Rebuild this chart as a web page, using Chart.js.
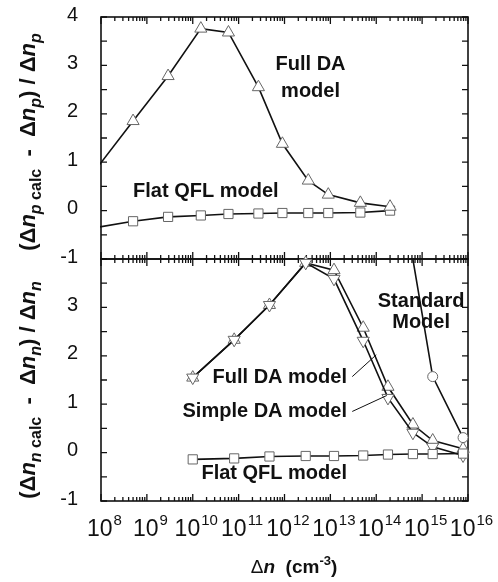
<!DOCTYPE html>
<html>
<head>
<meta charset="utf-8">
<script src="https://cdn.jsdelivr.net/npm/chart.js@4.4.0/dist/chart.umd.min.js"></script>
<style>
  html, body { margin: 0; padding: 0; background: #fff; }
</style>
</head>
<body>
<canvas id="myChart" width="498" height="582"></canvas>
<script>
/*---------------------------- data ------------------------------------*/
// upper panel: (dn_p calc - dn_p) / dn_p   (first point lies left of the axis, only the line shows)
var topX    = [5e7, 5e8, 2.9e9, 1.5e10, 6e10, 2.7e11, 9e11, 3.3e12, 9e12, 4.5e13, 2e14];
var topDaY  = [0.62, 1.85, 2.78, 3.76, 3.68, 2.55, 1.38, 0.62, 0.33, 0.16, 0.08];
var topQflY = [-0.38, -0.22, -0.13, -0.10, -0.07, -0.06, -0.05, -0.05, -0.05, -0.04, 0.0];

// lower panel: (dn_n calc - dn_n) / dn_n
var botX       = [1e10, 8e10, 4.7e11, 2.9e12, 1.2e13, 5.2e13, 1.8e14, 6.3e14, 1.7e15, 7.8e15];
var botFullY   = [1.55, 2.33, 3.05, 3.92, 3.77, 2.58, 1.36, 0.58, 0.25, 0.08];
var botSimpleY = [1.55, 2.33, 3.05, 3.92, 3.59, 2.31, 1.13, 0.41, 0.12, -0.06];
var botQflY    = [-0.14, -0.12, -0.08, -0.07, -0.07, -0.06, -0.04, -0.03, -0.03, -0.02];
var stdX       = [4e14, 1.7e15, 7.8e15];
var stdY       = [5.1, 1.57, 0.31];

var xExponents = [8, 9, 10, 11, 12, 13, 14, 15, 16];

function pts(xs, ys) {
  return xs.map(function (x, i) { return {x: x, y: ys[i]}; });
}
function radii(n, r, hideFirst) {
  var a = [];
  for (var i = 0; i < n; i++) a.push(hideFirst && i == 0 ? 0 : r);
  return a;
}

var FONT = "'Liberation Sans', Arial, sans-serif";

function series(data, axis, style, r, rot, hideFirst, clip) {
  return {
    data: data,
    yAxisID: axis,
    borderColor: '#111',
    borderWidth: 1.6,
    pointStyle: style,
    rotation: rot || 0,
    pointRadius: radii(data.length, r, hideFirst),
    pointBackgroundColor: '#fff',
    pointBorderColor: '#666',
    pointBorderWidth: 1,
    tension: 0,
    clip: clip
  };
}

// fixed axis sizes, no extra label overhang so the plot sits where the original does
function fixY(s) { s.width = 101; s.paddingTop = 0; s.paddingBottom = 0; }
function fixX(s) { s.height = 81; s.paddingLeft = 0; s.paddingRight = 0; }

/*---------------------------- extras drawn on top ----------------------*/
function rotatedTitle(ctx, cx, cy, parts) {
  var total = 0;
  parts.forEach(function (p) { ctx.font = p.f; total += ctx.measureText(p.t).width; });
  ctx.save();
  ctx.translate(cx, cy);
  ctx.rotate(-Math.PI / 2);
  var x = -total / 2;
  parts.forEach(function (p) {
    ctx.font = p.f;
    ctx.fillText(p.t, x, p.dy || 0);
    x += ctx.measureText(p.t).width;
  });
  ctx.restore();
}

var framePlugin = {
  id: 'frame',
  beforeDatasetsDraw: function (chart) {
    var ctx = chart.ctx, xs = chart.scales.x;
    ctx.save();
    ctx.strokeStyle = '#111';
    ['yTop', 'yBot'].forEach(function (id) {
      var ys = chart.scales[id];
      var t = ys.getPixelForValue(4), b = ys.getPixelForValue(-1);
      ctx.lineWidth = 1.6;
      ctx.strokeRect(xs.left, t, xs.right - xs.left, b - t);
      ctx.lineWidth = 1.3;
      ctx.beginPath();
      for (var v = -1; v <= 4; v += 0.5) {
        var py = ys.getPixelForValue(v);
        ctx.moveTo(xs.left, py); ctx.lineTo(xs.left + 6, py);
        ctx.moveTo(xs.right, py); ctx.lineTo(xs.right - 6, py);
      }
      for (var e = 8; e <= 16; e++) {
        for (var m = 1; m <= 9; m++) {
          if (e == 16 && m > 1) break;
          var px = xs.getPixelForValue(m * Math.pow(10, e));
          var len = m == 1 ? 7 : 4;
          ctx.moveTo(px, t); ctx.lineTo(px, t + len);
          ctx.moveTo(px, b); ctx.lineTo(px, b - len);
        }
      }
      ctx.stroke();
    });
    ctx.restore();
  },
  afterDraw: function (chart) {
    var ctx = chart.ctx, xs = chart.scales.x, yt = chart.scales.yTop, yb = chart.scales.yBot;
    ctx.save();
    ctx.fillStyle = '#111';
    ctx.textBaseline = 'alphabetic';

    // x tick labels 10^n
    xExponents.forEach(function (e) {
      var px = xs.getPixelForValue(Math.pow(10, e));
      ctx.font = '23px ' + FONT;
      var w1 = ctx.measureText('10').width;
      ctx.font = '15px ' + FONT;
      var w2 = ctx.measureText(String(e)).width;
      var x0 = px - (w1 + w2) / 2 + 3;
      ctx.font = '23px ' + FONT;
      ctx.fillText('10', x0, 536);
      ctx.font = '15px ' + FONT;
      ctx.fillText(String(e), x0 + w1 + 1, 525);
    });

    // x axis title
    var parts = [
      {t: '\u0394', f: '19px ' + FONT},
      {t: 'n', f: 'italic bold 19px ' + FONT},
      {t: '  (cm', f: 'bold 19px ' + FONT},
      {t: '-3', f: 'bold 13px ' + FONT, dy: -8},
      {t: ')', f: 'bold 19px ' + FONT}
    ];
    var tw = 0;
    parts.forEach(function (p) { ctx.font = p.f; tw += ctx.measureText(p.t).width; });
    var cx = 294 - tw / 2;
    parts.forEach(function (p) {
      ctx.font = p.f;
      ctx.fillText(p.t, cx, 573 + (p.dy || 0));
      cx += ctx.measureText(p.t).width;
    });

    // y axis titles
    var B = 'bold 22px ' + FONT, I = 'italic bold 22px ' + FONT;
    var SI = 'italic bold 16px ' + FONT, S = 'bold 16px ' + FONT;
    function ytitle(sub, cy) {
      rotatedTitle(ctx, 35, cy, [
        {t: '(\u0394', f: B}, {t: 'n', f: I}, {t: sub, f: SI, dy: 6}, {t: ' calc', f: S, dy: 6},
        {t: '  -  \u0394', f: B}, {t: 'n', f: I}, {t: sub, f: SI, dy: 6},
        {t: ') / \u0394', f: B}, {t: 'n', f: I}, {t: sub, f: SI, dy: 6}
      ]);
    }
    ytitle('p', (yt.top + yt.bottom) / 2 + 4);
    ytitle('n', (yb.top + yb.bottom) / 2 + 10);

    // panel annotations
    ctx.font = 'bold 20px ' + FONT;
    function label(txt, lx, ly, scale, align) {
      ctx.textAlign = align;
      ctx.textBaseline = 'middle';
      ctx.fillText(txt, xs.getPixelForValue(lx), scale.getPixelForValue(ly));
    }
    label('Full DA', 3.7e12, 3.02, yt, 'center');
    label('model', 3.7e12, 2.47, yt, 'center');
    label('Flat QFL model', 5e8, 0.39, yt, 'left');
    label('Standard', 9.5e14, 3.13, yb, 'center');
    label('Model', 9.5e14, 2.68, yb, 'center');
    label('Full DA model', 2.3e13, 1.55, yb, 'right');
    label('Simple DA model', 2.3e13, 0.85, yb, 'right');
    label('Flat QFL model', 2.3e13, -0.43, yb, 'right');

    // leader lines from the labels to the curves
    ctx.lineWidth = 1;
    ctx.strokeStyle = '#111';
    ctx.beginPath();
    ctx.moveTo(xs.getPixelForValue(3e13), yb.getPixelForValue(1.57));
    ctx.lineTo(xs.getPixelForValue(1e14), yb.getPixelForValue(2.02));
    ctx.moveTo(xs.getPixelForValue(3e13), yb.getPixelForValue(0.85));
    ctx.lineTo(xs.getPixelForValue(1.7e14), yb.getPixelForValue(1.18));
    ctx.stroke();
    ctx.restore();
  }
};

/*---------------------------- chart ------------------------------------*/
new Chart('myChart', {
  type: 'line',
  data: {
    datasets: [
      series(pts(topX, topDaY), 'yTop', 'triangle', 7, 0, true, 1),
      series(pts(topX, topQflY), 'yTop', 'rect', 6.5, 0, true, 1),
      series(pts(botX, botQflY), 'yBot', 'rect', 6.5, 0, false, false),
      series(pts(stdX, stdY), 'yBot', 'circle', 5, 0, true, 1),
      series(pts(botX, botSimpleY), 'yBot', 'triangle', 7, 180, false, false),
      series(pts(botX, botFullY), 'yBot', 'triangle', 7, 0, false, false)
    ]
  },
  options: {
    responsive: false,
    animation: false,
    layout: {padding: {top: 17, right: 30, left: 0, bottom: 0}},
    plugins: {legend: {display: false}, tooltip: {enabled: false}},
    scales: {
      x: {
        type: 'logarithmic',
        min: 1e8, max: 1e16,
        grid: {display: false, drawTicks: false},
        border: {display: false},
        ticks: {display: false},
        afterFit: fixX
      },
      yBot: {
        type: 'linear', position: 'left', stack: 'panels', stackWeight: 1,
        min: -1, max: 4,
        grid: {display: false, drawTicks: false},
        border: {display: false},
        ticks: {
          stepSize: 1, autoSkip: false, padding: 23, color: '#111', labelOffset: -2,
          font: {family: FONT, size: 20},
          callback: function (v) { return v == 4 ? '' : String(v); }
        },
        afterFit: fixY
      },
      yTop: {
        type: 'linear', position: 'left', stack: 'panels', stackWeight: 1,
        min: -1, max: 4,
        grid: {display: false, drawTicks: false},
        border: {display: false},
        ticks: {
          stepSize: 1, autoSkip: false, padding: 23, color: '#111', labelOffset: -2,
          font: {family: FONT, size: 20}
        },
        afterFit: fixY
      }
    }
  },
  plugins: [framePlugin]
});
</script>
</body>
</html>
